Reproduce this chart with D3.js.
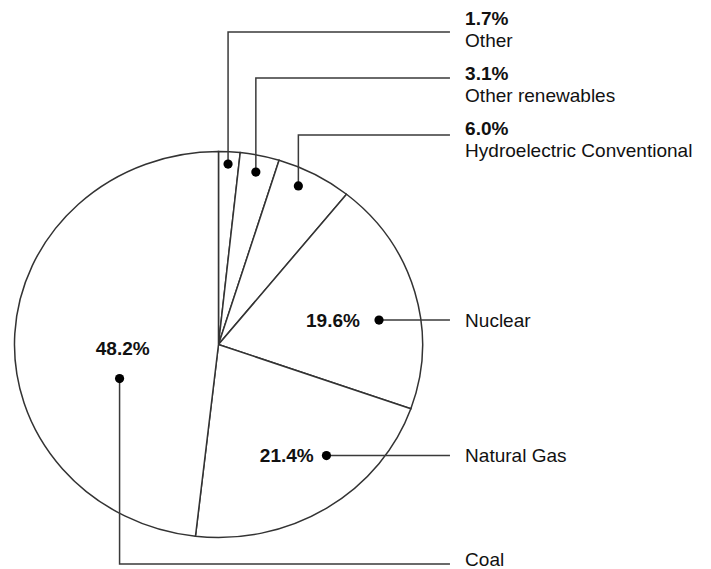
<!DOCTYPE html>
<html>
<head>
<meta charset="utf-8">
<script src="https://cdn.jsdelivr.net/npm/d3@7"></script>
<style>
  body { margin: 0; background: #fff; }
  svg text { font-family: "Liberation Sans", Arial, Helvetica, sans-serif; fill: #111; }
</style>
</head>
<body>
<svg id="chart"></svg>
<script>
// data
var categories = ["Other", "Other renewables", "Hydroelectric Conventional", "Nuclear", "Natural Gas", "Coal"];
var shares = [1.7, 3.1, 6.0, 19.6, 21.4, 48.2];

// where each dot sits inside its slice: t = fraction across the slice, k = fraction of radius
var dotT = [0.47, 0.49, 0.38, 0.595, 0.363, 0.366];
var dotK = [0.936, 0.912, 0.91, 0.797, 0.782, 0.516];
var calloutKind = ["top", "top", "top", "side", "side", "bottom"];
var topLineY = [32, 78, 135];
var topPctY = [25, 80, 135];

var width = 711, height = 569;
var stretch = 1.057;               // the original is drawn slightly wider than tall
var cx = 206.7, cy = 344.5, radius = 193;
var lineEndX = 425.7, textX = 440;

var svg = d3.select("#chart")
    .attr("width", width)
    .attr("height", height);

var g = svg.append("g")
    .attr("transform", "scale(" + stretch + ",1)");

var data = categories.map(function (c, i) {
    return {name: c, value: shares[i], i: i};
});

var pie = d3.pie()
    .sort(null)
    .value(function (d) { return d.value; });

var arcs = pie(data);

var arc = d3.arc()
    .innerRadius(0)
    .outerRadius(radius);

var rScale = d3.scaleLinear().domain([0, 1]).range([0, radius]);

var pieG = g.append("g")
    .attr("transform", "translate(" + cx + "," + cy + ")");

pieG.selectAll("path")
    .data(arcs)
    .enter().append("path")
    .attr("d", arc)
    .attr("fill", "#fff")
    .attr("stroke", "#333")
    .attr("stroke-width", 1.5)
    .attr("vector-effect", "non-scaling-stroke");

function dotPos(a) {
    var i = a.data.i;
    var ang = a.startAngle + (a.endAngle - a.startAngle) * dotT[i];
    var r = rScale(dotK[i]);
    return [cx + r * Math.sin(ang), cy - r * Math.cos(ang)];
}

var pctFmt = d3.format(".1f");

arcs.forEach(function (a) {
    var i = a.data.i;
    var p = dotPos(a);
    var kind = calloutKind[i];
    var pts;

    if (kind === "top") {
        pts = [p, [p[0], topLineY[i]], [lineEndX, topLineY[i]]];
    } else if (kind === "side") {
        pts = [p, [lineEndX, p[1]]];
    } else {
        pts = [p, [p[0], 564], [lineEndX, 564]];
    }

    g.append("path")
        .attr("d", d3.line()(pts))
        .attr("fill", "none")
        .attr("stroke", "#3a3a3a")
        .attr("stroke-width", 1.5)
        .attr("vector-effect", "non-scaling-stroke");

    g.append("ellipse")
        .attr("cx", p[0])
        .attr("cy", p[1])
        .attr("rx", 4.6 / stretch)
        .attr("ry", 4.6)
        .attr("fill", "#000");

    var pct = pctFmt(a.data.value) + "%";

    if (kind === "top") {
        g.append("text")
            .attr("x", textX)
            .attr("y", topPctY[i])
            .attr("font-size", 18)
            .attr("font-weight", "bold")
            .text(pct);
        g.append("text")
            .attr("x", textX)
            .attr("y", topPctY[i] + 22)
            .attr("font-size", 18)
            .text(a.data.name);
    } else if (kind === "side") {
        g.append("text")
            .attr("x", textX)
            .attr("y", p[1] + 6.5)
            .attr("font-size", 18)
            .text(a.data.name);
        g.append("text")
            .attr("x", p[0] - (i === 3 ? 18 : 12))
            .attr("y", p[1] + 6.5)
            .attr("text-anchor", "end")
            .attr("font-size", 18)
            .attr("font-weight", "bold")
            .text(pct);
    } else {
        g.append("text")
            .attr("x", textX)
            .attr("y", 566)
            .attr("font-size", 18)
            .text(a.data.name);
        g.append("text")
            .attr("x", p[0] + 3)
            .attr("y", p[1] - 24)
            .attr("text-anchor", "middle")
            .attr("font-size", 18)
            .attr("font-weight", "bold")
            .text(pct);
    }
});
</script>
</body>
</html>
